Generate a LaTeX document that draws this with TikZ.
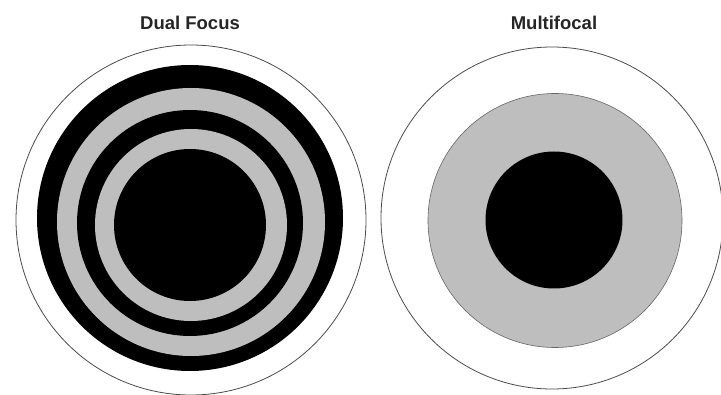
\documentclass[tikz,border=0pt]{standalone}
\usepackage{fontspec}
\setmainfont{Liberation Sans}
\definecolor{lensgray}{RGB}{190,190,190}

\begin{document}
\begin{tikzpicture}[
  x=1pt, y=-1pt,
  title/.style={font=\fontsize{18.5}{20}\selectfont\bfseries, text=black!85, inner sep=0pt},
  rim/.style={draw=black!70, line width=0.8pt, fill=white},
  ring/.style={fill=black},
  band/.style={fill=lensgray},
  zone/.style={draw=black!60, line width=0.6pt, fill=lensgray}
]
\useasboundingbox[fill=white] (0,0) rectangle (721,395);

% dual focus lens
\node[title] (dual) at (190,22.5) {Dual Focus};
\draw[rim] (191,220) circle (175);
\fill[ring] (190,218) circle (153);
\fill[band] (191,222) circle (134);
\fill[ring] (190,223) circle (113);
\fill[band] (191,225) circle (96);
\fill[ring] (190,225) circle (76);

% multifocal lens
\node[title] (multi) at (554,22.5) {Multifocal};
\draw[rim] (552,218) circle (171);
\draw[zone] (555,220.5) circle (127);
\fill[ring] (554,220) circle (68.5);
\end{tikzpicture}
\end{document}
